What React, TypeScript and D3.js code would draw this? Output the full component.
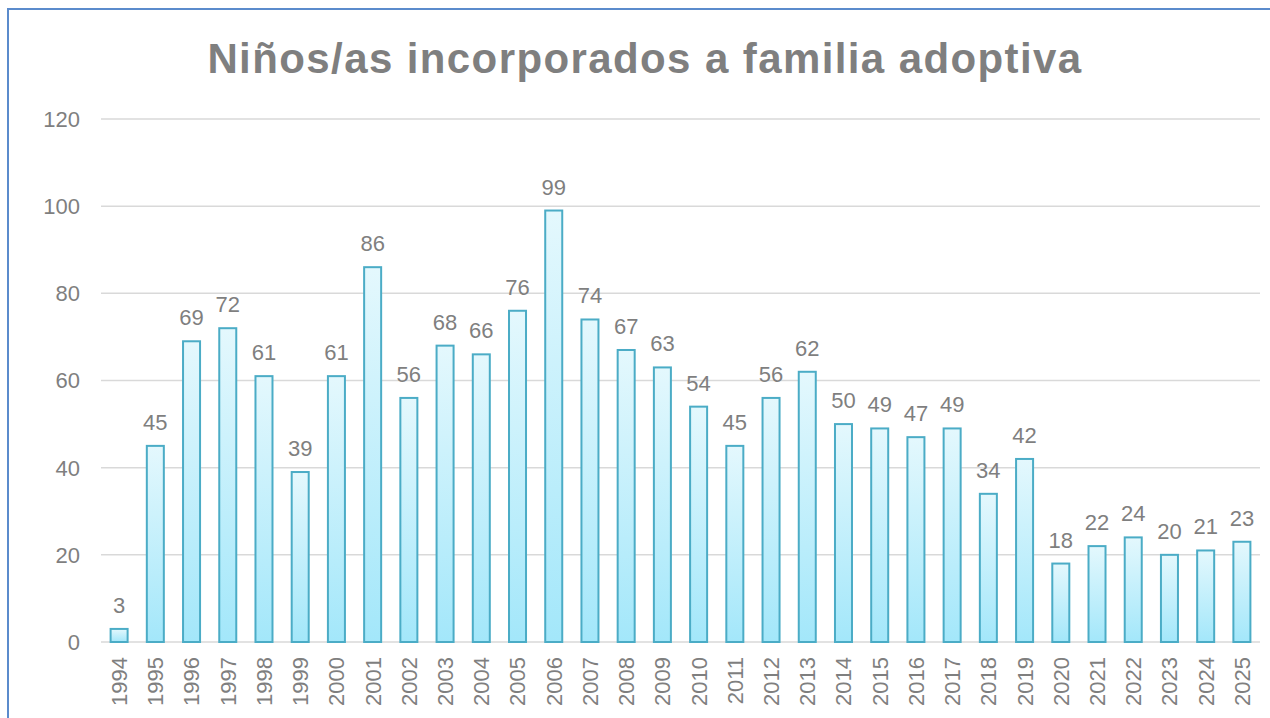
import * as React from "react";
import * as d3 from "d3";

const years: string[] = [
  "1994", "1995", "1996", "1997", "1998", "1999", "2000", "2001",
  "2002", "2003", "2004", "2005", "2006", "2007", "2008", "2009",
  "2010", "2011", "2012", "2013", "2014", "2015", "2016", "2017",
  "2018", "2019", "2020", "2021", "2022", "2023", "2024", "2025",
];
const children: number[] = [
  3, 45, 69, 72, 61, 39, 61, 86, 56, 68, 66, 76, 99, 74, 67, 63,
  54, 45, 56, 62, 50, 49, 47, 49, 34, 42, 18, 22, 24, 20, 21, 23,
];
const yTicks: number[] = [0, 20, 40, 60, 80, 100, 120];
const title = "Niños/as incorporados a familia adoptiva";

const W = 1270;
const H = 718;
const margin = { top: 119, right: 10, bottom: 76, left: 101 };
const FONT = "'Liberation Sans', Arial, sans-serif";
const GRAY = "#7f7f7f";

export default function App() {
  const ref = React.useRef<SVGSVGElement>(null);

  React.useEffect(() => {
    document.body.style.margin = "0";
    document.body.style.overflow = "hidden";

    const svg = d3.select(ref.current);
    svg.selectAll("*").remove();

    const x = d3.scaleBand<string>()
      .domain(years)
      .range([margin.left, W - margin.right])
      .paddingInner(0.475)
      .paddingOuter(0.2375);
    const y = d3.scaleLinear().domain([0, 120]).range([H - margin.bottom, margin.top]);

    const defs = svg.append("defs");
    const grad = defs.append("linearGradient")
      .attr("id", "barFill")
      .attr("x1", 0).attr("y1", 0).attr("x2", 0).attr("y2", 1);
    grad.append("stop").attr("offset", "0%").attr("stop-color", "#e4f8fd");
    grad.append("stop").attr("offset", "100%").attr("stop-color", "#a3e7fa");

    // outer frame (only top/left visible)
    svg.append("path")
      .attr("d", `M8,${H} L8,9 L${W},9`)
      .attr("fill", "none")
      .attr("stroke", "#5b8bcc")
      .attr("stroke-width", 2);

    svg.append("text")
      .attr("x", 645)
      .attr("y", 73)
      .attr("text-anchor", "middle")
      .attr("font-family", FONT)
      .attr("font-weight", "bold")
      .attr("font-size", 42)
      .attr("letter-spacing", 1.4)
      .attr("fill", GRAY)
      .text(title);

    // gridlines
    svg.append("g")
      .selectAll("line")
      .data(yTicks)
      .join("line")
      .attr("x1", margin.left)
      .attr("x2", W - margin.right)
      .attr("y1", (d) => y(d))
      .attr("y2", (d) => y(d))
      .attr("stroke", "#d9d9d9")
      .attr("stroke-width", 1.5);

    // y tick labels
    svg.append("g")
      .selectAll("text")
      .data(yTicks)
      .join("text")
      .attr("x", 80)
      .attr("y", (d) => y(d))
      .attr("dy", "0.36em")
      .attr("text-anchor", "end")
      .attr("font-family", FONT)
      .attr("font-size", 22)
      .attr("fill", GRAY)
      .text((d) => d);

    const data = years.map((yr, i) => ({ year: yr, value: children[i] }));
    const bw = x.bandwidth();

    svg.append("g")
      .selectAll("rect")
      .data(data)
      .join("rect")
      .attr("x", (d) => (x(d.year) as number) + 1)
      .attr("width", bw - 2)
      .attr("y", (d) => y(d.value))
      .attr("height", (d) => y(0) - y(d.value))
      .attr("fill", "url(#barFill)")
      .attr("stroke", "#4bacc6")
      .attr("stroke-width", 2);

    // value labels
    svg.append("g")
      .selectAll("text")
      .data(data)
      .join("text")
      .attr("x", (d) => (x(d.year) as number) + bw / 2)
      .attr("y", (d) => y(d.value) - 16)
      .attr("text-anchor", "middle")
      .attr("font-family", FONT)
      .attr("font-size", 22)
      .attr("fill", GRAY)
      .text((d) => d.value);

    // year labels, rotated
    svg.append("g")
      .selectAll("text")
      .data(years)
      .join("text")
      .attr("transform", (d) => `translate(${(x(d) as number) + bw / 2},${y(0) + 15}) rotate(-90)`)
      .attr("dy", "0.36em")
      .attr("text-anchor", "end")
      .attr("font-family", FONT)
      .attr("font-size", 22)
      .attr("fill", GRAY)
      .text((d) => d);
  }, []);

  return (
    <svg
      ref={ref}
      width={W}
      height={H}
      style={{ position: "absolute", left: 0, top: 0, background: "#fff" }}
    />
  );
}
